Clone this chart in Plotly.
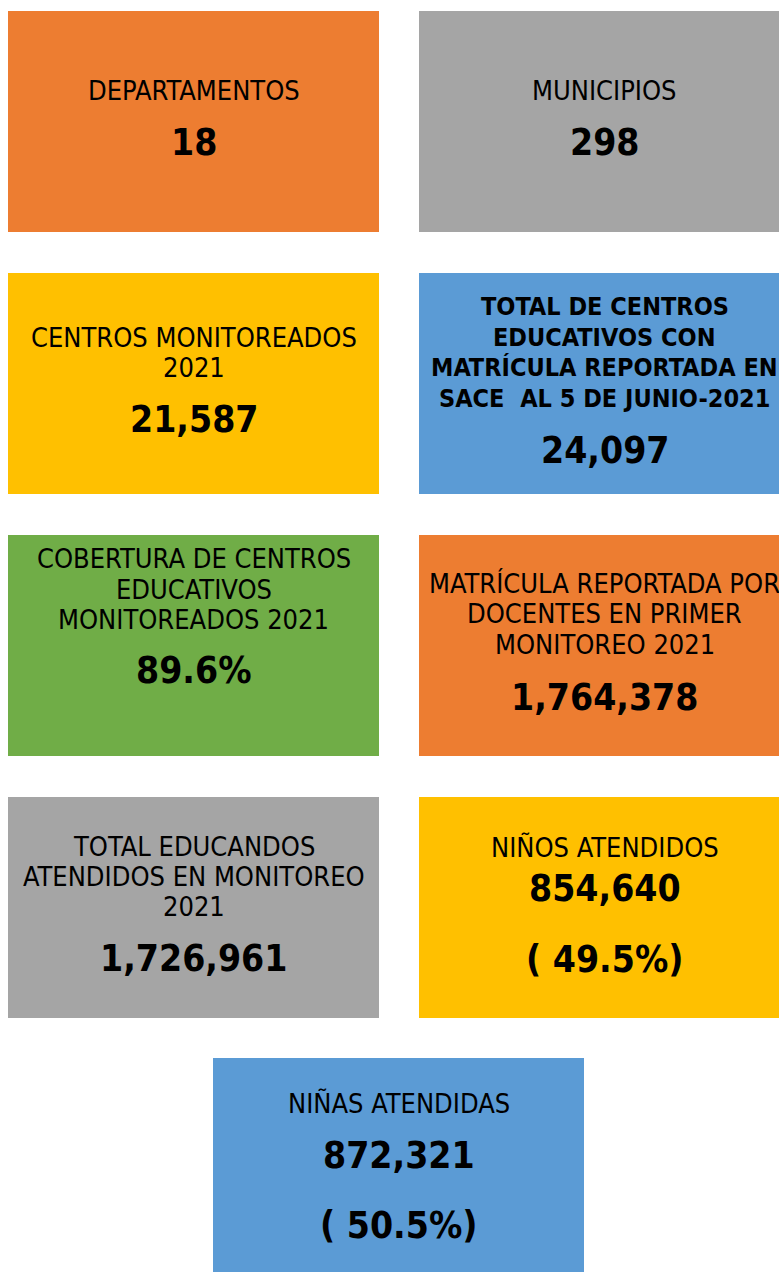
import plotly.graph_objects as go

# ---------------- data ----------------
titles = [
    ["DEPARTAMENTOS"],
    ["MUNICIPIOS"],
    ["CENTROS MONITOREADOS", "2021"],
    ["TOTAL DE CENTROS", "EDUCATIVOS CON", "MATRÍCULA REPORTADA EN", "SACE  AL 5 DE JUNIO-2021"],
    ["COBERTURA DE CENTROS", "EDUCATIVOS", "MONITOREADOS 2021"],
    ["MATRÍCULA REPORTADA POR", "DOCENTES EN PRIMER", "MONITOREO 2021"],
    ["TOTAL EDUCANDOS", "ATENDIDOS EN MONITOREO", "2021"],
    ["NIÑOS ATENDIDOS"],
    ["NIÑAS ATENDIDAS"],
]
title_bold = [False, False, False, True, False, False, False, False, False]
values = ["18", "298", "21,587", "24,097", "89.6%", "1,764,378", "1,726,961", "854,640", "872,321"]
shares = [None, None, None, None, None, None, None, "( 49.5%)", "( 50.5%)"]
colors = ["#ED7D31", "#A5A5A5", "#FFC000", "#5B9BD5", "#70AD47",
          "#ED7D31", "#A5A5A5", "#FFC000", "#5B9BD5"]

# ---------------- layout (pixels) ----------------
W, H = 779, 1272
BOX_W, BOX_H = 371, 221
col_x = [8, 419]
row_y = [11, 273, 535, 797, 1058]
last_x = 213
# vertical centre of each text row, relative to box top
row_offsets = [
    [79, 131],
    [79, 131],
    [64, 94, 146],
    [33, 64, 94, 125, 177],
    [23, 54, 84, 135],
    [48, 78, 109, 162],
    [49, 79, 109, 161],
    [50, 91, 162],
    [45, 97, 167],
]

FONT = "Liberation Sans Narrow, Arial Narrow, DejaVu Sans Condensed, sans-serif"
LABEL_SIZE = 27
BOLD_LABEL_SIZE = 25
NUM_SIZE = 37

fig = go.Figure()
shapes = []
annotations = []
for i in range(len(titles)):
    if i < 8:
        x0 = col_x[i % 2]
        y0 = row_y[i // 2]
    else:
        x0 = last_x
        y0 = row_y[4]
    shapes.append(dict(type="rect", xref="x", yref="y", x0=x0, x1=x0 + BOX_W,
                       y0=y0, y1=y0 + BOX_H, fillcolor=colors[i],
                       line=dict(width=0), layer="below"))
    cx = x0 + BOX_W / 2
    rows = []
    for t in titles[i]:
        if title_bold[i]:
            rows.append(("<b>%s</b>" % t, BOLD_LABEL_SIZE))
        else:
            rows.append((t, LABEL_SIZE))
    rows.append(("<b>%s</b>" % values[i], NUM_SIZE))
    if shares[i]:
        rows.append(("<b>%s</b>" % shares[i], NUM_SIZE))
    for (txt, size), off in zip(rows, row_offsets[i]):
        annotations.append(dict(x=cx, y=y0 + off, xref="x", yref="y", text=txt,
                                showarrow=False, xanchor="center", yanchor="middle",
                                font=dict(family=FONT, size=size, color="#000000")))

fig.update_layout(
    width=W, height=H,
    margin=dict(l=0, r=0, t=0, b=0),
    paper_bgcolor="white", plot_bgcolor="white",
    xaxis=dict(range=[0, W], visible=False, fixedrange=True),
    yaxis=dict(range=[H, 0], visible=False, fixedrange=True),
    shapes=shapes, annotations=annotations,
    showlegend=False,
)

fig.write_html("out.html", config={"displayModeBar": False},
               post_script="document.body.style.margin='0';document.body.style.overflow='hidden';")
